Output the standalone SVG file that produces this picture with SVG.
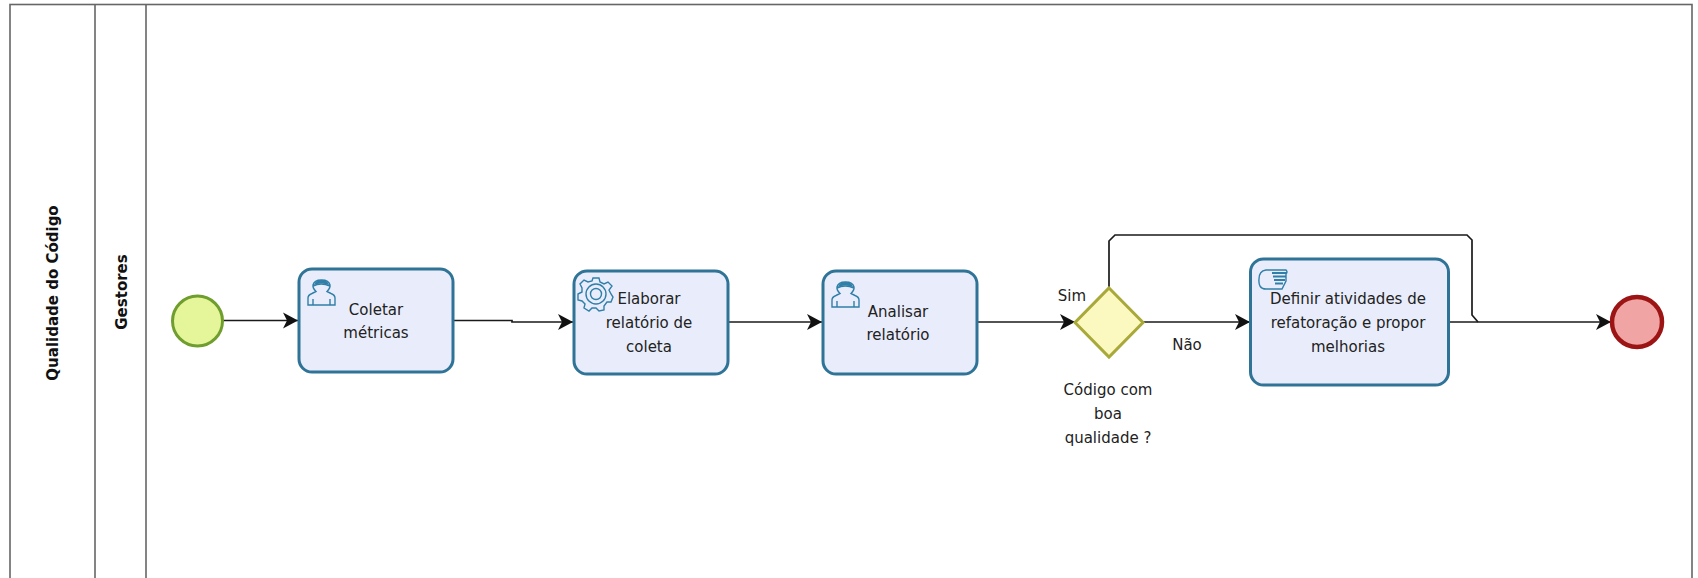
<svg xmlns="http://www.w3.org/2000/svg" width="1698" height="578" viewBox="0 0 1698 578">
<style>
text{font-family:"DejaVu Sans",sans-serif;font-size:15px;fill:#222;text-anchor:middle}
.title{font-weight:bold;font-size:15px;fill:#111}
.lane{fill:none;stroke:#666;stroke-width:1.6}
.task{fill:#e9edfb;stroke:#2f7396;stroke-width:3}
.flow{fill:none;stroke:#1a1a1a;stroke-width:1.7}
.ic{fill:none;stroke:#2f7fa8;stroke-width:1.4}
</style>
<defs>
<marker id="arrow" markerUnits="userSpaceOnUse" markerWidth="16" markerHeight="18" refX="15" refY="9" orient="auto">
<path d="M0 1 L15 9 L0 17 L4 9 Z" fill="#111"/>
</marker>
<g id="user"><path class="ic" d="M1 26 V19 Q1 16 5 14.5 L9 12.5 Q5.500 9 6 6 Q7 1 14.500 1 Q22 1 23 6 Q23.500 9 20 12.500 L24 14.500 Q28 16 28 19 V26 Z M6 26 V20 M23 26 V20 M6 7 Q14 3 23 7"/><path d="M7 6 Q8 1 14.500 1 Q21 1 22 6 Q14 3 7 6Z" fill="#2f7fa8"/></g>
</defs>
<g id="pool">
<rect class="lane" x="10" y="4.500" width="1682" height="590" stroke="#444"/>
<path class="lane" d="M95 4.500 V578 M146 4.500 V578"/>
<text class="title" transform="translate(58 293) rotate(-90)">Qualidade do Código</text>
<text class="title" transform="translate(127 292) rotate(-90)">Gestores</text>
</g>
<g id="connectors">
<path class="flow" marker-end="url(#arrow)" d="M223 320.500 H298"/>
<path class="flow" marker-end="url(#arrow)" d="M454 320.500 H512 V322 H573"/>
<path class="flow" marker-end="url(#arrow)" d="M728 322 H822"/>
<path class="flow" marker-end="url(#arrow)" d="M977 322 H1075"/>
<path class="flow" marker-end="url(#arrow)" d="M1143 322 H1250"/>
<path class="flow" d="M1109 288 V241 L1115 235 H1467 L1472 240 V315 L1478 322"/>
<path class="flow" marker-end="url(#arrow)" d="M1449 322 H1611"/>
</g>
<g id="start"><circle cx="197.500" cy="321" r="25" fill="#e5f59a" stroke="#6f9e2e" stroke-width="3"/></g>
<g id="task-coletar">
<rect class="task" x="299" y="269" width="154" height="103" rx="13"/>
<use href="#user" x="307" y="279"/>
<text x="376" y="315">Coletar</text><text x="376" y="338">métricas</text>
</g>
<g id="task-elaborar">
<rect class="task" x="574" y="271" width="154" height="103" rx="13"/>
<g class="ic" transform="translate(596 294)">
<circle r="5.500"/><circle r="10"/>
<path d="M-3 -16 H3 L4 -12 L8 -10 L12 -12 L16 -8 L13 -4 L15 0 L17 3 L15 8 L11 8 L8 12 L8 16 L3 17 L0 14 L-4 14 L-7 17 L-12 14 L-11 10 L-14 7 L-18 6 L-18 0 L-14 -2 L-14 -6 L-16 -10 L-12 -14 L-8 -12 L-4 -13 Z"/>
</g>
<text x="649" y="304">Elaborar</text><text x="649" y="328">relatório de</text><text x="649" y="352">coleta</text>
</g>
<g id="task-analisar">
<rect class="task" x="823" y="271" width="154" height="103" rx="13"/>
<use href="#user" x="831" y="281"/>
<text x="898" y="317">Analisar</text><text x="898" y="340">relatório</text>
</g>
<g id="gateway">
<path d="M1109 288 L1143 322.500 L1109 357 L1075 322.500 Z" fill="#fbf9c0" stroke="#a9a93a" stroke-width="3"/>
<text x="1072" y="301">Sim</text>
<text x="1187" y="350">Não</text>
<text x="1108" y="395">Código com</text><text x="1108" y="419">boa</text><text x="1108" y="443">qualidade ?</text>
</g>
<g id="task-definir">
<rect class="task" x="1250.500" y="259" width="198" height="126" rx="13"/>
<path class="ic" d="M1266 270 H1286 Q1288 272 1286 274 V281 L1282 289 H1266 Q1258 289 1259 279 Q1259 271 1266 270 Z" stroke-width="1.600"/>
<path d="M1272 273 H1287 M1273 276.500 H1286 M1274 280 H1285 M1275 283.500 H1283" fill="none" stroke="#2f7fa8" stroke-width="1.800"/>
<text x="1348" y="304">Definir atividades de</text><text x="1348" y="328">refatoração e propor</text><text x="1348" y="352">melhorias</text>
</g>
<g id="end"><circle cx="1637" cy="322" r="25" fill="#f0a4a4" stroke="#9c1414" stroke-width="4.500"/></g>
</svg>
